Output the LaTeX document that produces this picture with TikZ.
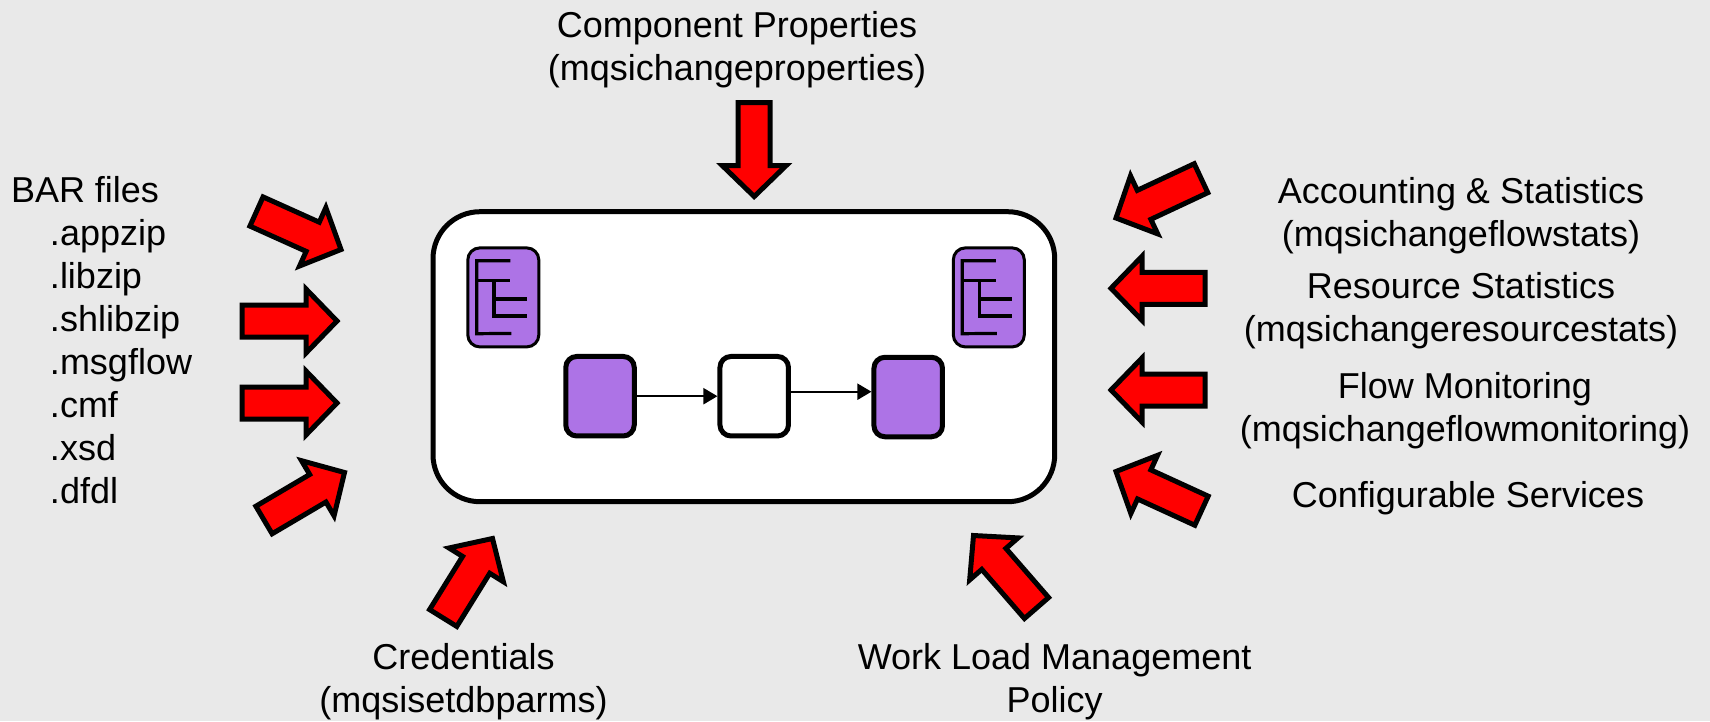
\documentclass[tikz,border=0pt]{standalone}
\usepackage{fontspec}
\setmainfont{Liberation Sans}
\usetikzlibrary{calc,arrows.meta}
\definecolor{bgcol}{HTML}{E9E9E9}
\definecolor{purp}{HTML}{AD73E6}
\tikzset{
  label text/.style={inner sep=0pt,outer sep=0pt,align=center,font=\fontsize{36}{43}\selectfont},
  main box/.style={draw=black,fill=white,line width=5pt,rounded corners=47pt,minimum width=621.7pt,minimum height=290pt,inner sep=0pt,outer sep=0pt},
  flow box/.style={draw=black,line width=5pt,rounded corners=11pt,minimum width=68.5pt,minimum height=79.5pt,inner sep=0pt,outer sep=0pt},
  tree box/.style={draw=black,fill=purp,line width=3pt,rounded corners=12pt,minimum width=71pt,minimum height=99pt,inner sep=0pt,outer sep=0pt},
  tree line/.style={draw=black,line width=3.2pt},
  flow arrow/.style={draw=black,line width=2pt,shorten >=2.5pt,shorten <=2.5pt,-{Triangle[length=14pt,width=16pt]}},
  big arrow/.style={draw=black,fill=red,line width=5pt,miter limit=10,line join=miter},
  treelines/.pic={
    \draw[tree line] (7,-36.7) -- (-26.6,-36.7) -- (-26.6,36.3) -- (8,36);
    \draw[tree line] (-26.6,-16.7) -- (7,-16.7);
    \draw[tree line] (-9.3,-16.7) -- (-9.3,18.6) -- (23.4,18.6);
    \draw[tree line] (-9.3,1.6) -- (23.4,1.6);
  }
}
\newcommand{\redarrow}[3]{%
  \coordinate (#1-tail) at (#2);
  \coordinate (#1-tip) at (#3);
  \coordinate (#1-base) at ($(#1-tip)!31pt!(#1-tail)$);
  \draw[big arrow]
    ($(#1-tail)!16pt!90:(#1-tip)$) -- ($(#1-base)!16pt!90:(#1-tip)$) --
    ($(#1-base)!32pt!90:(#1-tip)$) -- (#1-tip) --
    ($(#1-base)!32pt!-90:(#1-tip)$) -- ($(#1-base)!16pt!-90:(#1-tip)$) --
    ($(#1-tail)!16pt!-90:(#1-tip)$) -- cycle;
}
\begin{document}
\begin{tikzpicture}[x=1pt,y=-1pt]
\fill[bgcol] (0,0) rectangle (1710,721);
\useasboundingbox (0,0) rectangle (1710,721);

\node[main box] (main) at (743.85,356.7) {};
\node[tree box] (tree1) at (503.3,297.4) {};
\node[tree box] (tree2) at (988.8,297.4) {};
\pic (t1) at (tree1.center) {treelines};
\pic (t2) at (tree2.center) {treelines};
\node[flow box,fill=purp] (b1) at (600,396.2) {};
\node[flow box,fill=white] (b2) at (754.2,396.2) {};
\node[flow box,fill=purp] (b3) at (908.2,397) {};
\draw[flow arrow] (b1) -- (b2);
\draw[flow arrow] ([yshift=4.5pt]b2.east) -- ([yshift=5.3pt]b3.west);

\redarrow{top}{754.2,102.5}{754.2,196.5}
\redarrow{la}{256.5,211.5}{341,249.5}
\redarrow{lb}{242,321}{337,321}
\redarrow{lc}{242,403}{337,403}
\redarrow{ld}{264,520}{344.5,472.5}
\redarrow{ra}{1201,178.2}{1116,218}
\redarrow{rb}{1205,288.3}{1111,288.3}
\redarrow{rc}{1205,390}{1111,390}
\redarrow{rd}{1201.5,510.7}{1116,471.5}
\redarrow{cr}{443.2,618}{492.5,538.5}
\redarrow{wl}{1036.5,608}{973.5,535.5}

\node[label text] (compprops) at (737,49.5) {Component Properties\\(mqsichangeproperties)};
\node[label text,anchor=north west,align=left] (bar) at (11,176.5) {BAR files\\
\hspace{39pt}.appzip\\ \hspace{39pt}.libzip\\ \hspace{39pt}.shlibzip\\ \hspace{39pt}.msgflow\\ \hspace{39pt}.cmf\\ \hspace{39pt}.xsd\\ \hspace{39pt}.dfdl};
\node[label text] (acct) at (1461,215.5) {Accounting \& Statistics\\(mqsichangeflowstats)};
\node[label text] (res) at (1461,311) {Resource Statistics\\(mqsichangeresourcestats)};
\node[label text] (mon) at (1465,410.5) {Flow Monitoring\\(mqsichangeflowmonitoring)};
\node[label text] (conf) at (1468,498) {Configurable Services};
\node[label text] (cred) at (463.5,681.5) {Credentials\\(mqsisetdbparms)};
\node[label text] (wlm) at (1054.6,681.5) {Work Load Management\\Policy};
\end{tikzpicture}
\end{document}
